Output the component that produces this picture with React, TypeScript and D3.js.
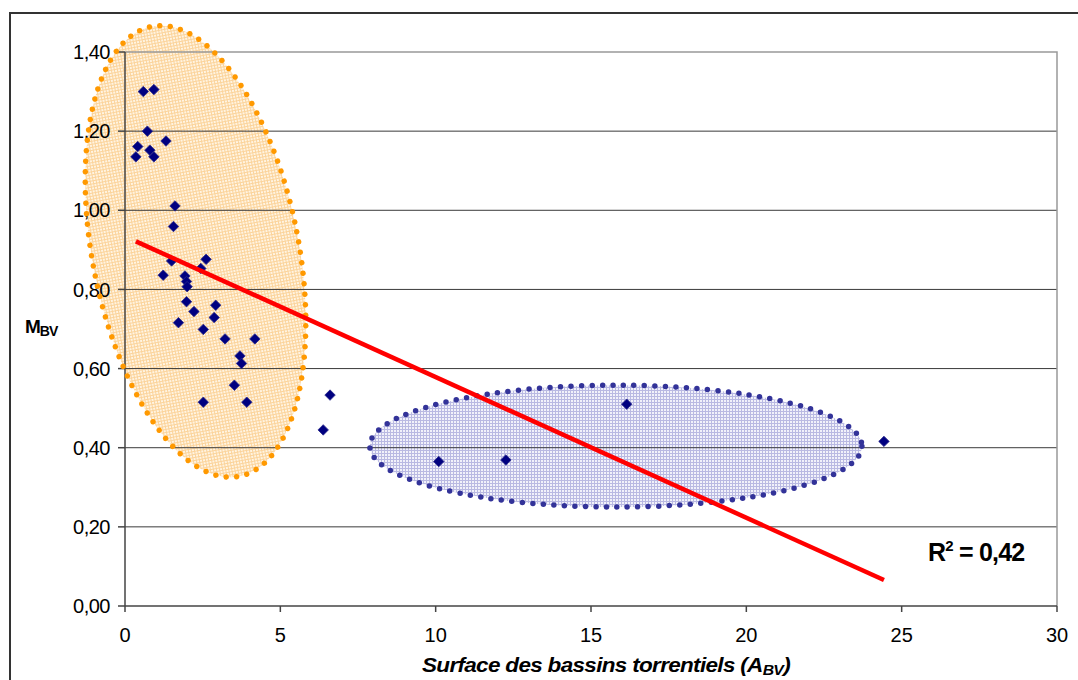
import React from "react";
import * as d3 from "d3";

// ---- data ----
const surfaceABV: number[] = [
  0.35, 0.41, 0.59, 0.93, 0.72, 0.8, 0.93, 1.32, 1.61, 1.56, 1.5, 2.61, 2.44, 1.23, 1.93, 1.98, 2.0, 1.98,
  2.22, 2.92, 2.87, 1.72, 2.52, 3.22, 4.18, 3.7, 3.75, 3.52, 2.52, 3.92, 6.6, 6.38, 10.1, 12.26, 16.15, 24.43,
];
const mBV: number[] = [
  1.135, 1.161, 1.3, 1.305, 1.2, 1.152, 1.135, 1.175, 1.011, 0.959, 0.872, 0.876, 0.853, 0.836, 0.834, 0.82,
  0.807, 0.769, 0.744, 0.76, 0.729, 0.716, 0.699, 0.675, 0.675, 0.632, 0.613, 0.558, 0.515, 0.515, 0.533,
  0.445, 0.365, 0.369, 0.51, 0.416,
];
const xTicks: number[] = [0, 5, 10, 15, 20, 25, 30];
const yTicks: number[] = [0, 0.2, 0.4, 0.6, 0.8, 1.0, 1.2, 1.4];
const trendIntercept = 0.934;
const trendSlope = -0.03555;
const rSquaredLabel = "0,42";
// annotation ellipses (data units): centre, half-width (x units), half-height (y units), rotation deg
const groupCx: number[] = [2.27, 15.8];
const groupCy: number[] = [0.896, 0.404];
const groupRx: number[] = [3.32, 7.92];
const groupRy: number[] = [0.579, 0.154];
const groupAngle: number[] = [-11, 0];

const FONT = "'Liberation Sans', Arial, sans-serif";

export default function App() {
  const left = 125, right = 1057, top = 52, bottom = 606;
  const x = d3.scaleLinear().domain([0, 30]).range([left, right]);
  const y = d3.scaleLinear().domain([0, 1.4]).range([bottom, top]);
  const fmtY = (v: number) => v.toFixed(2).replace(".", ",");

  const xMin = d3.min(surfaceABV) as number;
  const xMax = d3.max(surfaceABV) as number;
  const trendPts: [number, number][] = [xMin, xMax].map((v) => [x(v), y(trendIntercept + trendSlope * v)]);
  const line = d3.line();

  const fills = ["url(#patOrange)", "url(#patBlue)"];
  const dots = ["#FF9900", "#333399"];
  const diamond = d3.symbol().type(d3.symbolDiamond2).size(70)();

  const ellipses = groupCx.map((cx, i) => ({
    cx: x(cx),
    cy: y(groupCy[i]),
    rx: x(groupRx[i]) - x(0),
    ry: y(0) - y(groupRy[i]),
    a: groupAngle[i],
  }));

  return (
    <svg width={1078} height={680} style={{ position: "absolute", left: 0, top: 0, background: "#fff" }} fontFamily={FONT}>
      <defs>
        <pattern id="patOrange" width={3} height={3} patternUnits="userSpaceOnUse">
          <rect width={3} height={3} fill="#FFF4E2" />
          <path d="M0 0.5H3M0.5 0V3" stroke="#FBD39A" strokeWidth={1} />
        </pattern>
        <pattern id="patBlue" width={3} height={3} patternUnits="userSpaceOnUse">
          <rect width={3} height={3} fill="#F1F1FA" />
          <path d="M0 0.5H3M0.5 0V3" stroke="#B9B9E2" strokeWidth={1} />
        </pattern>
      </defs>
      {/* outer frame */}
      <rect x={10} y={13} width={1100} height={700} fill="#fff" stroke="#333" strokeWidth={2} />

      {/* ellipse fills */}
      {ellipses.map((e, i) => (
        <ellipse key={"f" + i} cx={e.cx} cy={e.cy} rx={e.rx} ry={e.ry} fill={fills[i]}
          transform={`rotate(${e.a} ${e.cx} ${e.cy})`} />
      ))}

      {/* gridlines */}
      {yTicks.slice(1, -1).map((t) => (
        <line key={"g" + t} x1={left} x2={right} y1={y(t)} y2={y(t)} stroke="#3a3a3a" strokeWidth={1} />
      ))}
      {/* plot border top/right */}
      <path d={`M${left},${top}H${right}V${bottom}`} fill="none" stroke="#999" strokeWidth={1.5} />
      {/* axes */}
      <line x1={left} x2={left} y1={top} y2={bottom} stroke="#444" strokeWidth={1.5} />
      <line x1={left} x2={right} y1={bottom} y2={bottom} stroke="#444" strokeWidth={1.5} />
      {yTicks.map((t) => (
        <g key={"yt" + t}>
          <line x1={left - 7} x2={left} y1={y(t)} y2={y(t)} stroke="#444" strokeWidth={1.5} />
          <text x={110} y={y(t)} dy="0.36em" textAnchor="end" fontSize={20} fill="#000" letterSpacing={-0.5}>{fmtY(t)}</text>
        </g>
      ))}
      {xTicks.map((t) => (
        <g key={"xt" + t}>
          <line x1={x(t)} x2={x(t)} y1={bottom} y2={bottom + 6} stroke="#444" strokeWidth={1.5} />
          <text x={x(t)} y={642} textAnchor="middle" fontSize={20} fill="#000">{t}</text>
        </g>
      ))}

      {/* ellipse dotted outlines */}
      {ellipses.map((e, i) => (
        <ellipse key={"o" + i} cx={e.cx} cy={e.cy} rx={e.rx} ry={e.ry} fill="none" stroke={dots[i]}
          strokeWidth={5.5} strokeLinecap="round" strokeDasharray="0 10.5"
          transform={`rotate(${e.a} ${e.cx} ${e.cy})`} />
      ))}

      {/* points */}
      {surfaceABV.map((v, i) => (
        <path key={"p" + i} d={diamond as string} transform={`translate(${x(v)},${y(mBV[i])})`} fill="#000080"
          stroke="#2a2a8a" strokeWidth={0.8} />
      ))}

      {/* trend line */}
      <path d={line(trendPts) as string} stroke="#FF0000" strokeWidth={4.5} fill="none" />

      {/* R² */}
      <text x={928} y={561} fontSize={25} fontWeight="bold" fill="#000" letterSpacing={-0.8}>
        R<tspan dy={-10} fontSize={15}>2</tspan><tspan dy={10}> = {rSquaredLabel}</tspan>
      </text>

      {/* axis titles */}
      <text x={25} y={333} fontSize={19} fontWeight="bold" fill="#000" letterSpacing={-1}>
        M<tspan dy={3} fontSize={14}>BV</tspan>
      </text>
      <text x={422} y={672} fontSize={20} fontWeight="bold" fontStyle="italic" fill="#000" letterSpacing={-0.6}
        textLength={368} lengthAdjust="spacingAndGlyphs">
        Surface des bassins torrentiels (A<tspan dy={3} fontSize={14}>BV</tspan><tspan dy={-3}>)</tspan>
      </text>
    </svg>
  );
}
